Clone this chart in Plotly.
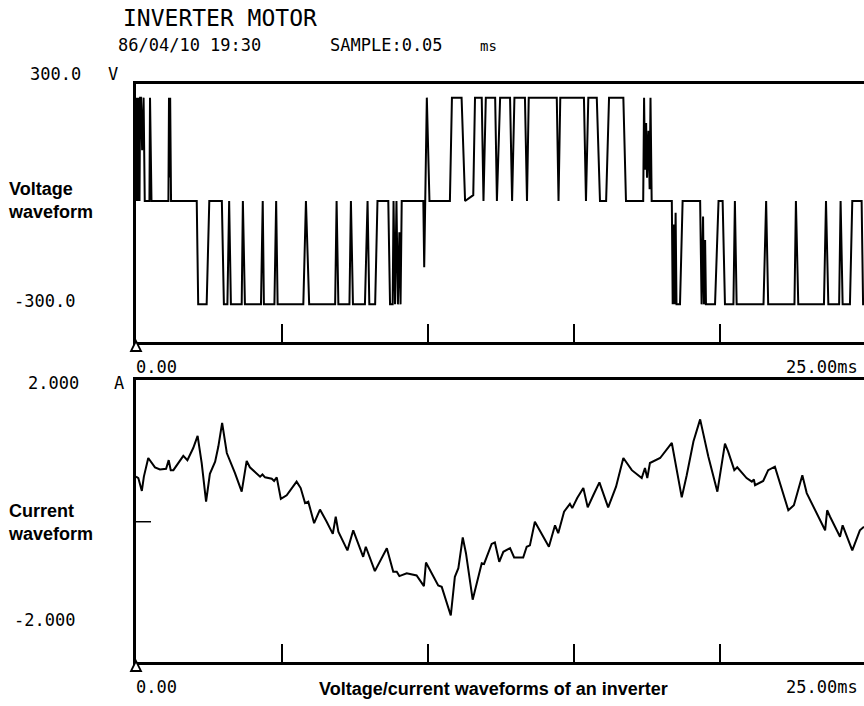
import plotly.graph_objects as go

# ---------------- data ----------------
# Voltage waveform breakpoints: time in ms, voltage in V
v_t = [0.00, 0.03, 0.05, 0.08, 0.10, 0.12, 0.14, 0.17, 0.21, 0.26,
       0.30, 0.46, 0.48, 0.53, 1.11, 1.13, 1.15, 1.17, 1.20, 2.08,
       2.13, 2.42, 2.51, 2.94, 3.01, 3.13, 3.19, 3.25, 3.62, 3.66,
       3.73, 4.28, 4.34, 4.38, 4.74, 4.80, 4.85, 5.73, 5.82, 5.93,
       6.82, 6.87, 6.93, 7.31, 7.36, 7.43, 7.84, 7.93, 7.99, 8.19,
       8.27, 8.64, 8.70, 8.79, 8.82, 8.87, 8.92, 8.97, 9.02, 9.06,
       9.10, 9.84, 9.87, 9.91, 9.96, 10.05, 10.75, 10.82, 11.15, 11.27,
       11.55, 11.61, 11.84, 11.90, 11.98, 12.30, 12.36, 12.47, 12.81, 12.88,
       12.96, 13.32, 13.39, 13.45, 14.41, 14.47, 14.53, 15.34, 15.41, 15.49,
       15.78, 15.89, 16.10, 16.20, 16.69, 16.78, 17.37, 17.40, 17.43, 17.47,
       17.50, 17.55, 17.59, 17.62, 17.66, 18.35, 18.38, 18.41, 18.44, 18.48,
       18.51, 18.63, 18.72, 19.32, 19.37, 19.42, 19.45, 19.49, 19.52, 19.83,
       19.95, 20.09, 20.17, 20.46, 20.51, 20.57, 21.49, 21.58, 21.65, 22.55,
       22.60, 22.68, 23.56, 23.63, 23.71, 24.08, 24.13, 24.20, 24.45, 24.53,
       24.85, 24.90, 25.00]
v_v = [265, 0, 265, 0, 265, 0, 265, 265, 130, 265,
       0, 0, 265, 0, 0, 265, 60, 265, 0, 0,
       -265, -265, 0, 0, -265, -265, 0, -265, -265, 0,
       -265, -265, 0, -265, -265, 0, -265, -265, 0, -265,
       -265, 0, -265, -265, 0, -265, -265, 0, -265, -265,
       0, 0, -265, -265, 0, -265, 0, -265, -80, -265,
       0, 0, -170, 0, 265, 0, 0, 265, 265, 0,
       15, 265, 265, 0, 265, 265, 0, 265, 265, 0,
       265, 265, 0, 265, 265, 0, 265, 265, 0, 265,
       265, 0, 0, 265, 265, 0, 0, 265, 80, 200,
       60, 180, 30, 265, 0, 0, -265, -60, -265, -30,
       -265, -265, 0, 0, -265, -40, -265, -100, -265, -265,
       0, 0, -265, -265, 0, -265, -265, 0, -265, -265,
       0, -265, -265, 0, -265, -265, 0, -265, -265, 0,
       0, -265, -265]

# Current waveform points: time in ms, current in A
c_t = [0.00, 0.08, 0.20, 0.27, 0.42, 0.65, 0.82, 1.03, 1.12, 1.19,
       1.28, 1.62, 1.76, 1.96, 2.11, 2.25, 2.40, 2.53, 2.71, 2.82,
       2.95, 3.11, 3.39, 3.62, 3.79, 3.90, 4.25, 4.33, 4.42, 4.65,
       4.73, 4.82, 4.96, 5.16, 5.50, 5.64, 5.79, 5.90, 6.10, 6.30,
       6.53, 6.74, 6.84, 6.93, 7.24, 7.44, 7.78, 7.87, 8.18, 8.59,
       8.81, 8.93, 9.02, 9.27, 9.61, 9.86, 9.93, 10.18, 10.35, 10.47,
       10.78, 10.92, 11.04, 11.19, 11.30, 11.53, 11.67, 11.84, 11.92, 12.18,
       12.29, 12.44, 12.58, 12.81, 12.95, 13.26, 13.38, 13.49, 13.66, 14.14,
       14.35, 14.46, 14.66, 14.86, 14.94, 15.11, 15.32, 15.47, 15.66, 15.87,
       16.17, 16.44, 16.69, 16.98, 17.32, 17.43, 17.51, 17.60, 17.95, 18.35,
       18.69, 18.86, 19.09, 19.32, 19.60, 19.91, 20.17, 20.28, 20.49, 20.59,
       20.91, 21.09, 21.16, 21.20, 21.48, 21.65, 21.88, 22.34, 22.53, 22.82,
       22.97, 23.60, 23.67, 23.77, 24.11, 24.20, 24.53, 24.79, 24.93]
c_i = [0.63, 0.61, 0.43, 0.63, 0.89, 0.76, 0.73, 0.74, 0.86, 0.72,
       0.72, 0.92, 0.86, 1.03, 1.20, 0.82, 0.28, 0.67, 0.84, 1.05,
       1.38, 0.96, 0.68, 0.42, 0.85, 0.76, 0.63, 0.66, 0.62, 0.60,
       0.57, 0.62, 0.32, 0.37, 0.56, 0.47, 0.26, 0.28, -0.02, 0.17,
       0.00, -0.17, 0.07, -0.14, -0.40, -0.12, -0.49, -0.35, -0.69, -0.37,
       -0.70, -0.70, -0.76, -0.72, -0.75, -0.90, -0.57, -0.77, -0.89, -0.91,
       -1.31, -0.77, -0.65, -0.22, -0.44, -1.09, -0.86, -0.58, -0.59, -0.31,
       -0.29, -0.56, -0.42, -0.37, -0.50, -0.50, -0.35, -0.33, 0.00, -0.35,
       -0.05, -0.16, 0.14, 0.25, 0.19, 0.33, 0.47, 0.20, 0.37, 0.55,
       0.20, 0.49, 0.89, 0.72, 0.61, 0.75, 0.61, 0.82, 0.89, 1.10,
       0.34, 0.65, 1.12, 1.43, 0.91, 0.42, 1.09, 0.98, 0.72, 0.76,
       0.61, 0.56, 0.59, 0.51, 0.57, 0.72, 0.77, 0.16, 0.23, 0.65,
       0.40, -0.12, 0.16, 0.07, -0.21, -0.05, -0.40, -0.12, -0.07]

x_ticks = [5, 10, 15, 20]
v_labels = ["300.0", "V", "-300.0"]
i_labels = ["2.000", "A", "-2.000"]
x_labels = ["0.00", "25.00ms"]
title_text = "INVERTER MOTOR"
date_text = "86/04/10 19:30"
sample_text = "SAMPLE:0.05"
sample_unit = "ms"
side_labels = ["Voltage<br>waveform", "Current<br>waveform"]
caption = "Voltage/current waveforms of an inverter"

# ---------------- layout helpers ----------------
W, H = 864, 706
def px(x):
    return x / W
def py(y):
    return 1 - y / H

MONO = "DejaVu Sans Mono"
BOLD = "Liberation Sans"

fig = go.Figure()
fig.add_trace(go.Scatter(x=v_t, y=v_v, mode="lines", xaxis="x", yaxis="y",
                         line=dict(color="black", width=2), showlegend=False,
                         hoverinfo="skip"))
fig.add_trace(go.Scatter(x=c_t, y=c_i, mode="lines", xaxis="x2", yaxis="y2",
                         line=dict(color="black", width=2), showlegend=False,
                         hoverinfo="skip"))

x_range = [0, 25 * (W - 136) / 730]
xcommon = dict(range=x_range, domain=[px(136), 1], showline=True, linewidth=3,
               linecolor="black", mirror=True, ticks="inside", ticklen=18,
               tickwidth=1.5, tickcolor="black", tickvals=x_ticks,
               showticklabels=False, showgrid=False, zeroline=False,
               fixedrange=True)
ycommon = dict(showline=True, linewidth=3, linecolor="black",
               showticklabels=False, ticks="", showgrid=False, zeroline=False,
               fixedrange=True)

fig.update_layout(
    width=W, height=H,
    margin=dict(l=0, r=0, t=0, b=0),
    paper_bgcolor="white", plot_bgcolor="white",
    xaxis=dict(xcommon, anchor="y"),
    yaxis=dict(ycommon, range=[-361.5, 300], domain=[py(342), py(84)],
               anchor="x"),
    xaxis2=dict(xcommon, anchor="y2"),
    yaxis2=dict(ycommon, range=[-1.96, 1.98], domain=[py(662), py(380)],
                anchor="x2"),
)

shapes = []
# zero marker on the current panel
shapes.append(dict(type="line", xref="x2 domain", yref="y2", x0=0, x1=15 / 728,
                   y0=0, y1=0, line=dict(color="black", width=1.5)))
# origin triangles
for ya in (342, 662):
    path = "M {} {} L {} {} L {} {} Z".format(px(136), py(ya - 1), px(131), py(ya + 9),
                                              px(141), py(ya + 9))
    shapes.append(dict(type="path", xref="paper", yref="paper", path=path,
                       line=dict(color="black", width=1.8), fillcolor="white"))
fig.update_layout(shapes=shapes)

ann = []
def text(t, x, y, size, font=MONO, xanchor="left", bold=False):
    if bold:
        t = "<b>" + t + "</b>"
    ann.append(dict(text=t, x=px(x), y=py(y), xref="paper", yref="paper",
                    xanchor=xanchor, yanchor="middle", showarrow=False,
                    font=dict(family=font, size=size, color="black"),
                    align="left"))

text(title_text, 121, 18, 23)
text(date_text, 116, 45, 17)
text(sample_text, 328, 45, 17)
text(sample_unit, 478, 46, 14)
text(v_labels[0], 28, 74, 17)
text(v_labels[1], 106, 74, 17)
text(v_labels[2], 12, 301, 17)
text(i_labels[0], 26, 383, 17)
text(i_labels[1], 112, 383, 17)
text(i_labels[2], 12, 620, 17)
text(x_labels[0], 134, 367, 17)
text(x_labels[1], 860, 367, 17, xanchor="right")
text(x_labels[0], 134, 687, 17)
text(x_labels[1], 860, 687, 17, xanchor="right")
text(side_labels[0], 6, 200, 18, font=BOLD, bold=True)
text(side_labels[1], 6, 522, 18, font=BOLD, bold=True)
ann.append(dict(text="<b>" + caption + "</b>", x=px(493), y=py(689),
                xref="paper", yref="paper", xanchor="center", yanchor="middle",
                showarrow=False, font=dict(family=BOLD, size=18, color="black")))
fig.update_layout(annotations=ann)

fig.write_html("out.html", config={"displayModeBar": False},
               post_script="document.body.style.margin='0';document.body.style.padding='0';")
